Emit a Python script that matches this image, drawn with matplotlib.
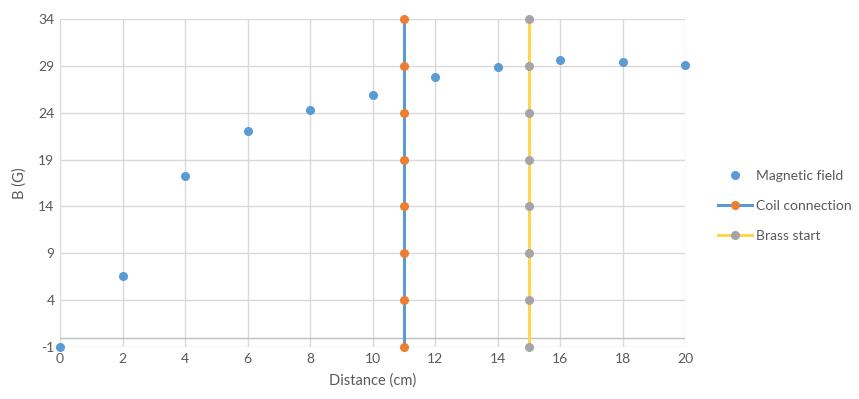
import matplotlib.pyplot as plt
import numpy as np

plt.rcParams['font.family'] = ['Lato', 'DejaVu Sans']
plt.rcParams['axes.unicode_minus'] = False

# data
distance = np.array([0, 2, 4, 6, 8, 10, 12, 14, 16, 18, 20])
field = np.array([-1, 6.6, 17.3, 22.0, 24.3, 25.9, 27.8, 28.9, 29.6, 29.4, 29.1])

coil_x = np.array([11, 11, 11, 11, 11, 11, 11, 11])
coil_y = np.array([-1, 4, 9, 14, 19, 24, 29, 34])

brass_x = np.array([15, 15, 15, 15, 15, 15, 15, 15])
brass_y = np.array([-1, 4, 9, 14, 19, 24, 29, 34])

yticks = np.arange(-1, 35, 5)
xticks = np.arange(0, 21, 2)

fig = plt.figure(figsize=(8.59, 3.99), dpi=100)
ax = fig.add_axes([60 / 859, 52 / 399, 625 / 859, 328 / 399])

ax.set_xlim(0, 20)
ax.set_ylim(-1, 34)
ax.set_xticks(xticks)
ax.set_yticks(yticks)
ax.grid(True, color='#D9D9D9', linewidth=1)
ax.set_axisbelow(True)
for s in ax.spines.values():
    s.set_visible(False)
ax.axhline(0, color='#BFBFBF', linewidth=1, zorder=1)
ax.tick_params(length=0, labelsize=10, colors='#595959', pad=4)

ax.plot(distance, field, 'o', color='#5B9BD5', markersize=5.5,
        label='Magnetic field', clip_on=False, zorder=3)
ax.plot(coil_x, coil_y, '-o', color='#5B9BD5', linewidth=2.2,
        markerfacecolor='#ED7D31', markeredgecolor='#ED7D31', markersize=5.5,
        label='Coil connection', clip_on=False, zorder=3)
ax.plot(brass_x, brass_y, '-o', color='#FFD54F', linewidth=2.2,
        markerfacecolor='#A5A5A5', markeredgecolor='#A5A5A5', markersize=5.5,
        label='Brass start', clip_on=False, zorder=3)

ax.set_xlabel('Distance (cm)', fontsize=10.5, color='#595959', labelpad=6)
ax.set_ylabel('B (G)', fontsize=10.5, color='#595959', labelpad=8)

leg = ax.legend(loc='center left', bbox_to_anchor=(1.053, 0.43), frameon=False,
                fontsize=10, labelcolor='#595959', handlelength=2.45,
                labelspacing=1.3, handletextpad=0.3, borderpad=0,
                borderaxespad=0)

fig.savefig('out.png', dpi=100)
